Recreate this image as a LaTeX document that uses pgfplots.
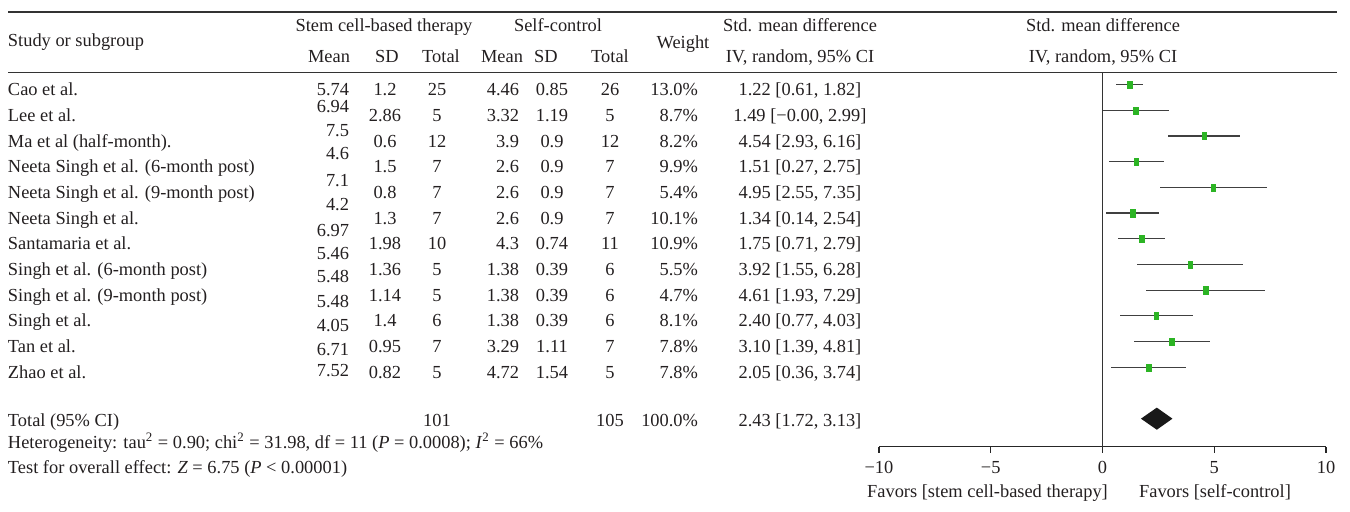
\documentclass[border=0pt]{standalone}
\usepackage{pgfplots}
\pgfplotsset{compat=1.18}
\usepackage{pgfplotstable}
\usepackage{fontspec}
\setmainfont{Liberation Serif}
\definecolor{fgreen}{RGB}{44,180,36}
\definecolor{txt}{RGB}{35,31,32}

\pgfplotstableread{
smd lo hi y w
1.22 0.61 1.82 -1 13.0
1.49 -0.00 2.99 -2 8.7
4.54 2.93 6.16 -3 8.2
1.51 0.27 2.75 -4 9.9
4.95 2.55 7.35 -5 5.4
1.34 0.14 2.54 -6 10.1
1.75 0.71 2.79 -7 10.9
3.92 1.55 6.28 -8 5.5
4.61 1.93 7.29 -9 4.7
2.40 0.77 4.03 -10 8.1
3.10 1.39 4.81 -11 7.8
2.05 0.36 3.74 -12 7.8
}\forest

\newcommand{\rowL}[6]{%
 \node[anchor=base west] at (8,#1) {#2};
 \node[anchor=base] at (385,#1) {#3};
 \node[anchor=base] at (437,#1) {#4};
 \node[anchor=base east] at (519,#1) {#5};
 \node[anchor=base] at (552,#1) {#6};}
\newcommand{\rowR}[4]{%
 \node[anchor=base] at (610,#1) {#2};
 \node[anchor=base east] at (698,#1) {#3};
 \node[anchor=base] at (800,#1) {#4};}
\newcommand{\mval}[2]{\node[anchor=base east] at (349,#1) {#2};}

\begin{document}
\begin{tikzpicture}[font=\fontsize{9.2}{11}\selectfont, text=txt]
\begin{scope}[x=0.5pt,y=-0.5pt, every node/.style={inner sep=0pt, outer sep=0pt}]
\path[use as bounding box] (0,0) rectangle (1350,512);
% rules
\draw[line width=0.6pt, black!80] (8,12) -- (1337,12);
\draw[line width=0.6pt, black!80] (8,72.7) -- (1337,72.7);
% headers
\node[anchor=base] at (384,32) {Stem cell-based therapy};
\node[anchor=base] at (558,32) {Self-control};
\node[anchor=base west] at (8,47) {Study or subgroup};
\node[anchor=base] at (683,49) {Weight};
\node[anchor=base] at (800,32) {Std. mean difference};
\node[anchor=base] at (800,63) {IV, random, 95\% CI};
\node[anchor=base] at (1103,32) {Std. mean difference};
\node[anchor=base] at (1103,63) {IV, random, 95\% CI};
\node[anchor=base east] at (350,63) {Mean};
\node[anchor=base] at (387,63) {SD};
\node[anchor=base] at (441,63) {Total};
\node[anchor=base] at (502,63) {Mean};
\node[anchor=base] at (546,63) {SD};
\node[anchor=base] at (610,63) {Total};
% rows
\rowL{96}{Cao et al.}{1.2}{25}{4.46}{0.85}\rowR{96}{26}{13.0\%}{1.22 [0.61, 1.82]}
\rowL{121.65}{Lee et al.}{2.86}{5}{3.32}{1.19}\rowR{121.65}{5}{8.7\%}{1.49 [−0.00, 2.99]}
\rowL{147.3}{Ma et al (half-month).}{0.6}{12}{3.9}{0.9}\rowR{147.3}{12}{8.2\%}{4.54 [2.93, 6.16]}
\rowL{172.95}{Neeta Singh et al. (6-month post)}{1.5}{7}{2.6}{0.9}\rowR{172.95}{7}{9.9\%}{1.51 [0.27, 2.75]}
\rowL{198.6}{Neeta Singh et al. (9-month post)}{0.8}{7}{2.6}{0.9}\rowR{198.6}{7}{5.4\%}{4.95 [2.55, 7.35]}
\rowL{224.25}{Neeta Singh et al.}{1.3}{7}{2.6}{0.9}\rowR{224.25}{7}{10.1\%}{1.34 [0.14, 2.54]}
\rowL{249.9}{Santamaria et al.}{1.98}{10}{4.3}{0.74}\rowR{249.9}{11}{10.9\%}{1.75 [0.71, 2.79]}
\rowL{275.55}{Singh et al. (6-month post)}{1.36}{5}{1.38}{0.39}\rowR{275.55}{6}{5.5\%}{3.92 [1.55, 6.28]}
\rowL{301.2}{Singh et al. (9-month post)}{1.14}{5}{1.38}{0.39}\rowR{301.2}{6}{4.7\%}{4.61 [1.93, 7.29]}
\rowL{326.85}{Singh et al.}{1.4}{6}{1.38}{0.39}\rowR{326.85}{6}{8.1\%}{2.40 [0.77, 4.03]}
\rowL{352.5}{Tan et al.}{0.95}{7}{3.29}{1.11}\rowR{352.5}{7}{7.8\%}{3.10 [1.39, 4.81]}
\rowL{378.15}{Zhao et al.}{0.82}{5}{4.72}{1.54}\rowR{378.15}{5}{7.8\%}{2.05 [0.36, 3.74]}
% stem-cell means (misaligned as in the source)
\mval{96}{5.74}\mval{113}{6.94}\mval{137}{7.5}\mval{160}{4.6}\mval{187}{7.1}
\mval{211}{4.2}\mval{237}{6.97}\mval{260}{5.46}\mval{283}{5.48}\mval{308}{5.48}
\mval{332}{4.05}\mval{356}{6.71}\mval{377}{7.52}
% totals
\node[anchor=base west] at (8,427) {Total (95\% CI)};
\node[anchor=base] at (437,427) {101};
\node[anchor=base] at (610,427) {105};
\node[anchor=base east] at (698,427) {100.0\%};
\node[anchor=base] at (800,427) {2.43 [1.72, 3.13]};
\node[anchor=base west] at (8,449) {Heterogeneity: tau\textsuperscript{2} = 0.90; chi\textsuperscript{2} = 31.98, df = 11 (\textit{P} = 0.0008); \textit{I}\textsuperscript{2} = 66\%};
\node[anchor=base west] at (8,474) {Test for overall effect: \textit{Z} = 6.75 (\textit{P} < 0.00001)};
\node[anchor=base] at (987.5,498) {Favors [stem cell-based therapy]};
\node[anchor=base] at (1215,498) {Favors [self-control]};
\end{scope}
\begin{axis}[at={(439.5pt,-223.35pt)}, anchor=south west, scale only axis,
  width=223.5pt, height=187pt, xmin=-10, xmax=10, ymin=-15.09, ymax=-0.54,
  axis x line*=bottom, axis y line=none,
  xtick={-10,-5,0,5,10}, xticklabels={−10,−5,0,5,10},
  tick align=outside, major tick length=3pt,
  x axis line style={black!85, line width=0.6pt},
  xtick style={black!85, line width=0.6pt},
  xticklabel style={font=\fontsize{9.2}{11}\selectfont, text=txt, yshift=-1pt},
  clip=false]
\addplot[black!80, line width=0.6pt] coordinates {(0,-15.09) (0,-0.54)};
\addplot[draw=none, mark=none, error bars/.cd, x dir=both, x explicit, error mark=none,
  error bar style={line width=0.6pt, black!75}]
  table[x=smd, y=y, x error minus expr=\thisrow{smd}-\thisrow{lo}, x error plus expr=\thisrow{hi}-\thisrow{smd}] {\forest};
\addplot[only marks, mark=square*, mark size=1.8pt, fgreen, mark options={xscale=0.65, fill=fgreen, draw=fgreen, line width=0.1pt}]
  table[x=smd, y=y] {\forest};
\addplot[fill=black!90, draw=none] coordinates {(1.72,-14) (2.43,-13.57) (3.13,-14) (2.43,-14.43)} -- cycle;
\end{axis}
\end{tikzpicture}
\end{document}
